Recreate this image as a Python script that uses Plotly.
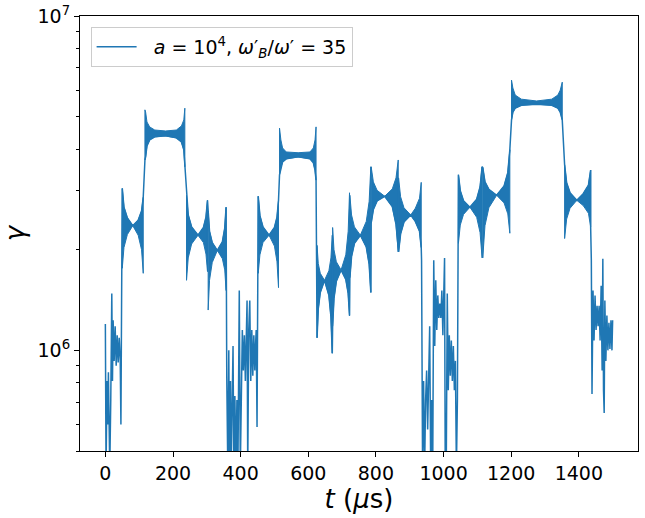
import math
import plotly.graph_objects as go

# ---------------- data (gamma in units of 1e6, t in microseconds) ----------------
# Densely oscillating "lobes": upper / lower envelope of the fast oscillation
LOBE_T = [
    [50, 55, 65, 81, 97, 107, 112],
    [117, 119, 123, 131, 146, 178, 210, 225, 232, 235],
    [240, 245, 255, 274, 290, 297.5, 302],
    [304, 308, 316, 331, 346, 353, 357],
    [452, 457, 466, 484, 500, 507.5, 512],
    [515, 519, 524, 535, 570, 605, 615, 620, 623],
    [626, 629.5, 635.5, 648, 661, 667, 671],
    [672, 676, 683, 697, 711, 718, 722],
    [723, 728, 736.5, 754, 771.5, 780, 785],
    [786, 792.5, 803.5, 826, 848.5, 859.5, 866],
    [867, 873, 883, 903, 916.5, 929, 934],
    [1044, 1049.5, 1059, 1078, 1098, 1108, 1114],
    [1116, 1122.5, 1134, 1157, 1179, 1190, 1196],
    [1201, 1205, 1212, 1230, 1275, 1320, 1338, 1345, 1351],
    [1358, 1364, 1374, 1394, 1413, 1428.5, 1435],
]
LOBE_HI = [
    [3.05, 2.68, 2.49, 2.36, 2.45, 2.61, 2.87],
    [5.24, 5.16, 4.82, 4.66, 4.56, 4.53, 4.56, 4.69, 4.89, 5.30],
    [2.91, 2.54, 2.34, 2.21, 2.33, 2.50, 2.81],
    [2.60, 2.27, 2.10, 1.99, 2.11, 2.32, 2.68],
    [2.89, 2.53, 2.34, 2.21, 2.33, 2.50, 2.81],
    [4.62, 4.26, 4.03, 3.92, 3.90, 3.92, 4.03, 4.26, 4.66],
    [2.06, 1.82, 1.70, 1.62, 1.73, 1.89, 2.21],
    [2.33, 2.00, 1.84, 1.74, 1.93, 2.27, 2.96],
    [2.91, 2.54, 2.34, 2.21, 2.43, 2.79, 3.54],
    [3.54, 3.19, 3.01, 2.89, 3.04, 3.28, 3.71],
    [3.28, 2.88, 2.67, 2.54, 2.66, 2.85, 3.18],
    [3.35, 3.00, 2.80, 2.68, 2.83, 3.08, 3.54],
    [3.52, 3.19, 3.03, 2.91, 3.10, 3.40, 3.98],
    [6.43, 6.09, 5.80, 5.64, 5.57, 5.64, 5.80, 6.00, 6.34],
    [3.59, 3.17, 2.96, 2.81, 2.94, 3.12, 3.46],
]
LOBE_LO = [
    [1.76, 2.03, 2.22, 2.36, 2.21, 2.00, 1.70],
    [3.71, 3.79, 4.09, 4.26, 4.35, 4.38, 4.32, 4.20, 3.98, 3.54],
    [1.62, 1.89, 2.08, 2.21, 2.10, 1.94, 1.72],
    [1.32, 1.62, 1.83, 1.99, 1.88, 1.74, 1.51],
    [1.70, 1.93, 2.10, 2.21, 2.05, 1.84, 1.54],
    [3.35, 3.52, 3.66, 3.74, 3.79, 3.74, 3.64, 3.46, 3.23],
    [1.09, 1.33, 1.49, 1.62, 1.46, 1.26, 0.98],
    [1.18, 1.43, 1.61, 1.74, 1.63, 1.48, 1.27],
    [1.65, 1.91, 2.09, 2.21, 2.04, 1.81, 1.49],
    [2.40, 2.64, 2.80, 2.89, 2.69, 2.38, 1.97],
    [1.97, 2.23, 2.42, 2.54, 2.43, 2.27, 2.03],
    [2.09, 2.37, 2.55, 2.68, 2.50, 2.25, 1.89],
    [1.89, 2.36, 2.67, 2.91, 2.76, 2.56, 2.24],
    [4.89, 5.16, 5.30, 5.41, 5.45, 5.41, 5.30, 5.16, 4.89],
    [2.16, 2.47, 2.66, 2.81, 2.71, 2.57, 2.34],
]

# Irregular stretches of the trajectory (explicit vertices)
SEG_A_T = [0, 2, 5, 7, 9, 11, 13, 16, 19, 21, 23, 26, 29, 32, 35, 38, 41, 44, 46, 48]
SEG_A_G = [1.20, 0.44, 0.81, 0.60, 0.86, 0.58, 0.44, 0.71, 1.48, 0.81, 1.23,
           0.93, 1.18, 0.90, 1.11, 0.92, 1.09, 0.93, 0.60, 1.41]
SEG_C_T = [359, 362, 365, 367, 370, 372, 375, 377.5, 380, 383, 386, 389, 392, 396,
           399, 402, 405, 408, 411, 414, 417, 419, 421, 424, 427, 430, 433, 436,
           439, 442, 444, 446, 448.5]
SEG_C_G = [0.83, 0.44, 1.00, 0.44, 0.81, 0.44, 0.93, 1.03, 0.44, 0.73, 0.44, 0.71,
           0.44, 1.51, 0.44, 0.93, 1.15, 0.87, 1.11, 0.81, 1.07, 1.41, 0.44, 1.15,
           1.41, 0.81, 1.15, 0.84, 1.11, 0.87, 1.03, 1.15, 0.59]
SEG_E_T = [935, 938, 941, 944, 947, 950, 953, 956, 959, 962, 965, 968, 971, 974,
           977, 980, 983, 986, 989, 992, 995, 998, 1001, 1003, 1005, 1008, 1011,
           1014, 1017, 1020, 1023, 1026, 1029, 1032, 1035, 1038, 1041]
SEG_E_G = [1.86, 0.44, 0.81, 0.44, 0.71, 0.87, 0.58, 0.76, 1.18, 0.44, 0.71, 0.44,
           1.86, 1.03, 1.62, 1.15, 1.46, 1.25, 1.38, 1.25, 1.51, 1.11, 1.83, 1.89,
           0.44, 0.44, 1.48, 0.76, 1.11, 0.84, 1.07, 0.81, 1.03, 0.76, 0.93, 0.44,
           0.71]
SEG_G_T = [1437, 1439, 1442, 1445, 1448, 1451, 1454, 1457, 1460, 1463, 1466, 1469,
           1471, 1473, 1475, 1477, 1480, 1483, 1486, 1489, 1492, 1495, 1498, 1500]
SEG_G_G = [1.86, 0.74, 1.51, 1.07, 1.46, 1.15, 1.36, 1.18, 1.36, 1.07, 1.56, 0.87,
           1.88, 0.76, 0.65, 1.41, 0.93, 1.27, 1.00, 1.21, 1.01, 1.23, 1.00, 1.23]

# Order in which the trajectory runs through the pieces above
ROUTE = [
    ("seg", "A"), ("hi", 0), ("lo", 1), ("hi", 2), ("hi", 3), ("end_lo", 3),
    ("seg", "C"), ("hi", 4), ("lo", 5), ("lo", 6), ("lo", 7), ("lo", 8),
    ("lo", 9), ("lo", 10), ("seg", "E"), ("hi", 11), ("hi", 12), ("lo", 13),
    ("hi", 14), ("end_lo", 14), ("seg", "G"),
]

X_TICKS = [0, 200, 400, 600, 800, 1000, 1200, 1400]
Y_TICKS = [1e6, 1e7]
Y_TICK_TEXT = ["10<sup>6</sup>", "10<sup>7</sup>"]
Y_MINOR = [5e5, 6e5, 7e5, 8e5, 9e5, 2e6, 3e6, 4e6, 5e6, 6e6, 7e6, 8e6, 9e6]
LEGEND_LABEL = ("&nbsp;&nbsp;<i>a</i> = 10<sup>4</sup>, "
                "<i>ω</i>′<sub><i>B</i></sub>/<i>ω</i>′ = 35")

COLOR = "#1f77b4"
FONT = "DejaVu Sans"

# ---------------- build figure ----------------
segs = {"A": (SEG_A_T, SEG_A_G), "C": (SEG_C_T, SEG_C_G),
        "E": (SEG_E_T, SEG_E_G), "G": (SEG_G_T, SEG_G_G)}
path_t, path_g = [], []
for kind, key in ROUTE:
    if kind == "seg":
        path_t += segs[key][0]
        path_g += segs[key][1]
    elif kind == "hi":
        path_t += LOBE_T[key]
        path_g += LOBE_HI[key]
    elif kind == "lo":
        path_t += LOBE_T[key]
        path_g += LOBE_LO[key]
    elif kind == "end_lo":
        path_t.append(LOBE_T[key][-1])
        path_g.append(LOBE_LO[key][-1])

poly_x, poly_y = [], []
for t, hi, lo in zip(LOBE_T, LOBE_HI, LOBE_LO):
    poly_x += list(t) + list(t[::-1]) + [t[0], None]
    poly_y += [v * 1e6 for v in hi] + [v * 1e6 for v in lo[::-1]] + [hi[0] * 1e6, None]

fig = go.Figure()
fig.add_trace(go.Scatter(
    x=poly_x, y=poly_y, mode="lines", fill="toself", fillcolor=COLOR,
    line=dict(color=COLOR, width=1), showlegend=False, hoverinfo="skip",
))
fig.add_trace(go.Scatter(
    x=path_t, y=[g * 1e6 for g in path_g], mode="lines",
    line=dict(color=COLOR, width=1.5), name=LEGEND_LABEL, hoverinfo="skip",
))

fig.update_layout(
    width=645, height=518,
    margin=dict(l=80, r=7, t=16, b=67, autoexpand=False),
    paper_bgcolor="white", plot_bgcolor="white",
    font=dict(family=FONT, color="black", size=19),
    showlegend=True,
    legend=dict(
        x=0.019, y=0.975, xanchor="left", yanchor="top",
        bgcolor="rgba(255,255,255,0.8)", bordercolor="#cccccc", borderwidth=1,
        font=dict(size=19, family=FONT), itemwidth=40,
    ),
)
fig.update_xaxes(
    automargin=False,
    range=[-75, 1575], tickvals=X_TICKS, ticks="outside", ticklen=5,
    tickwidth=1, tickcolor="black", showline=True, linecolor="black",
    linewidth=1, mirror=True, showgrid=False, zeroline=False,
    tickfont=dict(size=19, family=FONT),
    title=dict(text="<i>t</i> (<i>μ</i>s)", font=dict(size=26, family=FONT), standoff=4),
)
fig.update_yaxes(
    automargin=False,
    type="log", range=[math.log10(5e5), 7], tickvals=Y_TICKS, ticktext=Y_TICK_TEXT,
    ticks="outside", ticklen=5, tickwidth=1, tickcolor="black",
    showline=True, linecolor="black", linewidth=1, mirror=True,
    showgrid=False, zeroline=False, tickfont=dict(size=19, family=FONT),
    minor=dict(tickvals=Y_MINOR, ticks="outside", ticklen=3, tickcolor="black",
               tickwidth=1, showgrid=False),
    title=dict(text="<i>γ</i>", font=dict(size=26, family=FONT), standoff=8),
)

fig.write_html(
    "out.html",
    config={"displayModeBar": False},
    post_script="document.body.style.margin='0px';document.body.style.padding='0px';",
)
